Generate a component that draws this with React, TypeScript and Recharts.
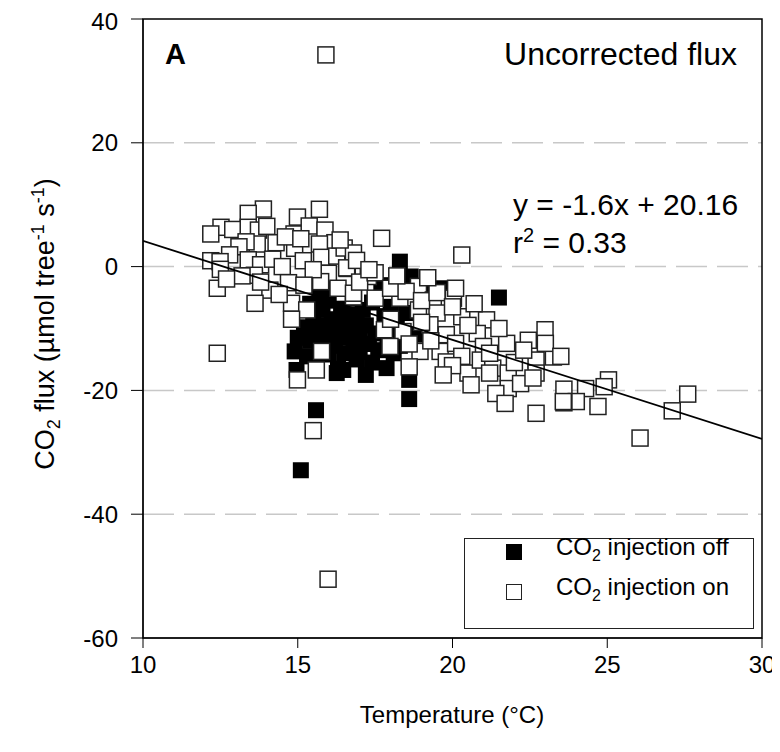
import React from "react";
import {
  ScatterChart,
  Scatter,
  XAxis,
  YAxis,
  CartesianGrid,
  ReferenceArea,
} from "recharts";

// temperature (°C), CO2 flux — injection on (open squares)
const injectionOn: [number, number][] = [
  [15.91, 34.2], [15.98, -50.5], [12.4, -14.0],
  [13.89, 9.3], [13.4, 8.6], [15.7, 9.26], [14.99, 8.0], [12.52, 6.35], [12.19, 5.27],
  [12.9, 6.0], [13.4, 6.35], [13.73, 5.9], [14.88, 5.27], [15.37, 6.56], [15.88, 5.9],
  [16.2, 3.86], [14.3, 3.86], [13.69, 3.65], [13.33, 4.0], [13.1, 3.2], [14.9, 2.96],
  [15.7, 3.65], [12.8, 1.9], [12.19, 0.95], [12.49, 0.8], [12.5, -0.44], [13.4, 1.1],
  [13.8, 0.3], [14.19, 1.2], [14.5, 0], [15.18, 0.95], [15.77, 1.5], [16.26, 1.7],
  [16.6, -0.3], [15.99, -1.08], [13.6, -1.4], [14.1, -3.8], [14.7, -2.6], [15.74, -2.43],
  [12.4, -3.5], [13.62, -5.93], [14.8, -5.93], [15.29, -7.0], [14.8, -8.5], [15.77, -13.7],
  [15.6, -16.7], [14.99, -18.3], [16.8, -4.9], [15.5, -26.5],
  [14.0, 6.5], [14.6, 4.8], [15.1, 4.5], [16.5, 3.0], [16.8, 2.2], [15.5, -0.5],
  [15.2, -3.0], [14.4, -4.5], [13.8, -2.5], [13.2, -1.5], [12.7, -2.0], [16.3, -3.5],
  [17.71, 4.57], [20.3, 1.87], [16.37, 4.3], [16.58, -0.2], [17.28, -1.6], [16.8, -4.3],
  [17.5, -5.1], [18.3, -5.1], [18.9, -3.2], [19.38, -5.4], [20.03, -5.1], [20.3, -8.1],
  [19.5, -7.5], [18.9, -7.0], [21.1, -8.6], [17.8, -10.2], [18.4, -10.5], [19.27, -9.4],
  [19.8, -11.0], [20.8, -10.8], [21.75, -12.4], [22.45, -11.9], [22.99, -10.2], [17.98, -12.9],
  [18.95, -13.7], [19.6, -13.7], [20.1, -12.4], [21.0, -12.9], [18.6, -16.2], [19.8, -15.4],
  [20.5, -17.2], [20.9, -15.1], [21.3, -16.4], [21.8, -17.2], [22.7, -15.1], [22.7, -17.2],
  [23.26, -14.6], [21.8, -19.7], [20.6, -19.1], [21.4, -20.5],
  [17.0, -2.5], [17.5, -1.0], [18.0, -3.5], [18.5, -4.0], [19.0, -5.5], [19.5, -4.2],
  [20.0, -6.5], [20.5, -9.5], [19.0, -9.0], [18.0, -8.5], [16.9, 1.0], [17.3, -0.5],
  [18.2, -1.5], [19.2, -1.8], [20.1, -3.5], [20.7, -6.0], [21.5, -10.0], [21.2, -14.0],
  [20.3, -14.5], [19.3, -12.0], [18.6, -12.5], [20.0, -16.0], [22.0, -15.5], [22.3, -13.5],
  [23.0, -12.4], [23.5, -14.5], [25.04, -18.3], [24.9, -19.4], [24.3, -19.7], [23.6, -19.8],
  [24.0, -21.8], [23.6, -22.0], [24.7, -22.6], [27.6, -20.6], [27.1, -23.3], [26.06, -27.7],
  [19.7, -17.5], [21.7, -22.1], [22.7, -23.7], [23.58, -21.8], [22.2, -18.9], [22.6, -18.0],
  [21.2, -17.2],
];

// injection off (filled squares)
const injectionOff: [number, number][] = [
  [14.9, -13.7], [14.96, -16.7], [15.0, -11.5], [15.2, -9.8], [15.3, -14.5], [15.4, -12.0],
  [15.5, -8.2], [15.5, -10.5], [15.6, -15.5], [15.7, -13.0], [15.8, -7.0], [15.8, -9.5],
  [15.9, -11.8], [16.0, -14.2], [16.0, -5.5], [16.1, -8.5], [16.2, -10.8], [16.2, -12.8],
  [16.3, -16.5], [16.4, -6.8], [16.4, -9.2], [16.5, -11.5], [16.5, -14.0], [16.6, -7.8],
  [16.7, -10.2], [16.8, -12.5], [16.8, -5.2], [16.9, -8.8], [17.0, -13.8], [17.0, -11.0],
  [17.1, -7.0], [17.2, -17.5], [17.2, -9.5], [17.3, -12.5], [17.4, -5.8], [17.5, -10.8],
  [17.6, -13.5], [17.7, -3.0], [17.8, -8.0], [17.87, -16.4], [17.9, -11.5], [18.0, -6.5],
  [18.1, -14.0], [18.2, -9.5], [18.3, -12.8], [18.3, 0.8], [18.5, -7.5], [18.6, -18.3],
  [18.6, -21.4], [18.65, -1.6], [18.8, -11.0], [19.17, -3.5], [19.7, -3.5], [21.5, -5.0],
  [15.1, -32.9], [15.59, -23.2], [16.26, -17.2], [16.47, -16.7], [15.4, -6.0], [15.7, -4.5],
  [16.9, -15.0], [17.4, -15.5], [16.0, -3.5],
];

const xTicks = [10, 15, 20, 25, 30];
const yTicks = [-60, -40, -20, 0, 20, 40];
const gridLines = [-40, -20, 0, 20];

// linear fit y = -1.6x + 20.16
const fitSlope = -1.6;
const fitIntercept = 20.16;
const fitRange = [10, 30];

const onData = injectionOn.map(([x, y]) => ({ x, y }));
const offData = injectionOff.map(([x, y]) => ({ x, y }));
const fitData = fitRange.map((x) => ({ x, y: fitSlope * x + fitIntercept }));

const FONT = "'Liberation Sans', Arial, sans-serif";

const OpenSquare = (props: any) => {
  const { cx, cy } = props;
  if (cx == null || cy == null) return null;
  return (
    <rect x={cx - 8} y={cy - 8} width={16} height={16} fill="#fff" stroke="#222" strokeWidth={1.5} />
  );
};

const FilledSquare = (props: any) => {
  const { cx, cy } = props;
  if (cx == null || cy == null) return null;
  return <rect x={cx - 8} y={cy - 8} width={16} height={16} fill="#000" />;
};

const NoDot = () => null;

const LegendBox = () => (
  <div
    style={{
      position: "absolute",
      left: 456,
      top: 530,
      width: 290,
      height: 91,
      border: "1.5px solid #222",
      background: "#fff",
      fontSize: 24,
      lineHeight: "28px",
      color: "#000",
      boxSizing: "border-box",
    }}
  >
    <div style={{ position: "absolute", left: 41, top: 5, width: 16, height: 16, background: "#000" }} />
    <div style={{ position: "absolute", left: 91, top: -6, whiteSpace: "nowrap" }}>
      CO<sub style={{ fontSize: 16, lineHeight: 0 }}>2</sub> injection off
    </div>
    <div
      style={{
        position: "absolute",
        left: 41,
        top: 45,
        width: 16,
        height: 16,
        border: "1.5px solid #222",
        boxSizing: "border-box",
      }}
    />
    <div style={{ position: "absolute", left: 91, top: 34, whiteSpace: "nowrap" }}>
      CO<sub style={{ fontSize: 16, lineHeight: 0 }}>2</sub> injection on
    </div>
  </div>
);

export default function App() {
  return (
    <div style={{ position: "relative", width: 780, height: 744, fontFamily: FONT }}>
      <ScatterChart width={780} height={744} margin={{ top: 11, right: 26, bottom: 74, left: 55 }}>
        <CartesianGrid
          vertical={false}
          horizontalValues={gridLines}
          stroke="#c8c8c8"
          strokeDasharray="31 10"
          strokeWidth={1.5}
        />
        <XAxis
          type="number"
          dataKey="x"
          domain={[10, 30]}
          ticks={xTicks}
          height={40}
          tickSize={10}
          tickMargin={8}
          stroke="#000"
          tick={{ fill: "#000", fontSize: 24, fontFamily: FONT }}
          allowDataOverflow
        />
        <YAxis
          type="number"
          dataKey="y"
          domain={[-60, 40]}
          ticks={yTicks}
          width={80}
          tickSize={12}
          tickMargin={13}
          stroke="#000"
          tick={{ fill: "#000", fontSize: 24, fontFamily: FONT }}
          allowDataOverflow
        />
        <Scatter data={offData} shape={FilledSquare} isAnimationActive={false} />
        <Scatter data={onData} shape={OpenSquare} isAnimationActive={false} />
        <Scatter
          data={fitData}
          line={{ stroke: "#000", strokeWidth: 1.8 }}
          shape={NoDot}
          isAnimationActive={false}
        />
        <ReferenceArea x1={10} x2={30} y1={-60} y2={40} fill="none" stroke="#000" strokeWidth={1.5} />
      </ScatterChart>

      <LegendBox />

      <div style={{ position: "absolute", left: 157, top: 30, fontSize: 29, fontWeight: "bold" }}>A</div>
      <div style={{ position: "absolute", right: 51, top: 28, fontSize: 32 }}>Uncorrected flux</div>
      <div style={{ position: "absolute", left: 505, top: 178, fontSize: 30, lineHeight: "38px" }}>
        <div>y = -1.6x + 20.16</div>
        <div>
          r<sup style={{ fontSize: 20, lineHeight: 0 }}>2</sup> = 0.33
        </div>
      </div>
      <div
        style={{
          position: "absolute",
          left: 37,
          top: 316,
          transform: "translate(-50%, -50%) rotate(-90deg)",
          whiteSpace: "nowrap",
          fontSize: 27,
        }}
      >
        CO<sub style={{ fontSize: 18, lineHeight: 0 }}>2</sub> flux (µmol tree
        <sup style={{ fontSize: 18, lineHeight: 0 }}>-1</sup> s<sup style={{ fontSize: 18, lineHeight: 0 }}>-1</sup>)
      </div>
      <div
        style={{
          position: "absolute",
          left: 444,
          top: 707,
          transform: "translate(-50%, -50%)",
          whiteSpace: "nowrap",
          fontSize: 24,
        }}
      >
        Temperature (°C)
      </div>
    </div>
  );
}
